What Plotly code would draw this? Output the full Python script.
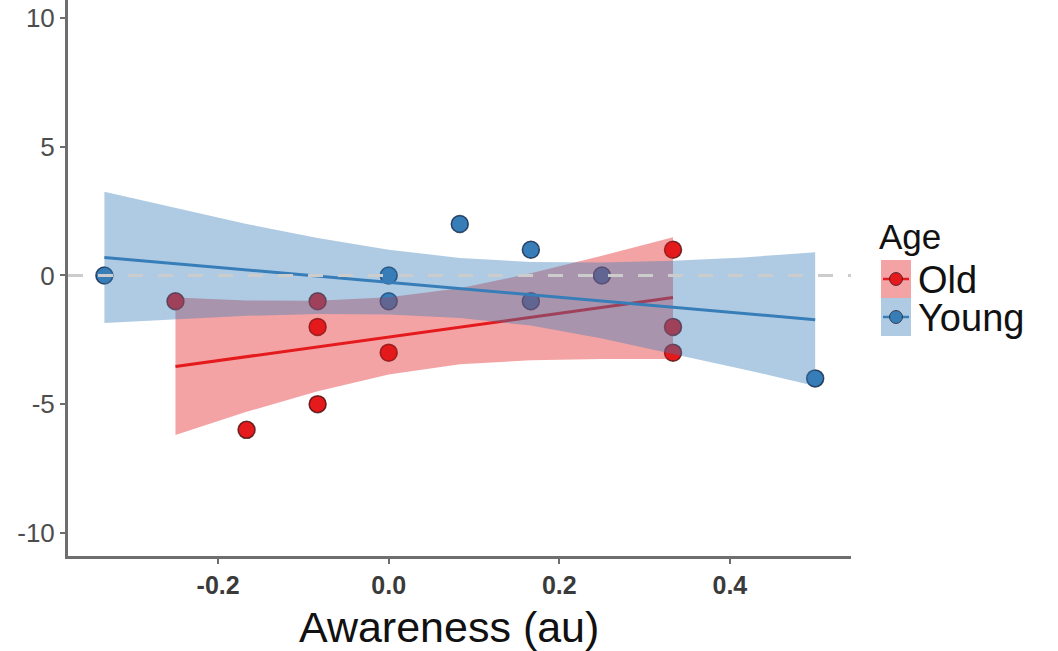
import plotly.graph_objects as go

# ---------------- data ----------------
old_x = [-0.25, -1/6, -1/12, -1/12, -1/12, 0.0, 1/3, 1/3, 1/3]
old_y = [-1, -6, -1, -2, -5, -3, 1, -2, -3]

young_x = [-1/3, 0.0, 0.0, 1/12, 1/6, 1/6, 0.25, 0.5]
young_y = [0, 0, -1, 2, 1, -1, 0, -4]

# fitted lines (end points) and 95% bands
old_line_x = [-0.25, 1/3]
old_line_y = [-3.54, -0.86]
old_band_x = [-0.25, -1/6, -1/12, 0.0, 1/12, 1/6, 0.25, 1/3]
old_band_hi = [-0.86, -0.97, -0.98, -0.85, -0.5, 0.08, 0.76, 1.48]
old_band_lo = [-6.2, -5.3, -4.5, -3.85, -3.45, -3.3, -3.25, -3.25]

young_line_x = [-1/3, 0.5]
young_line_y = [0.70, -1.72]
young_band_x = [-1/3, -0.25, -1/6, -1/12, 0.0, 1/12, 1/6, 0.25, 1/3, 5/12, 0.5]
young_band_hi = [3.25, 2.62, 2.0, 1.45, 1.0, 0.68, 0.52, 0.5, 0.57, 0.7, 0.9]
young_band_lo = [-1.85, -1.7, -1.57, -1.5, -1.52, -1.65, -1.95, -2.45, -3.05, -3.65, -4.3]

ref_level = 0

x_tick_vals = [-0.2, 0.0, 0.2, 0.4]
x_tick_text = ["-0.2", "0.0", "0.2", "0.4"]
y_tick_vals = [-10, -5, 0, 5, 10]
y_tick_text = ["-10", "-5", "0", "5", "10"]

groups = ["Old", "Young"]
x_title = "Awareness (au)"
legend_title = "Age"

# ---------------- styling ----------------
RED = "#E41A1C"
BLUE = "#377EB8"
RED_FILL = "rgba(228,26,28,0.40)"
BLUE_FILL = "rgba(55,126,184,0.40)"
FONT = "Liberation Sans, Arial, Helvetica, sans-serif"

fig = go.Figure()

# points first (ribbons are drawn over them, as in the reference)
fig.add_trace(go.Scatter(
    x=old_x, y=old_y, mode="markers", showlegend=False,
    marker=dict(size=17, color=RED, line=dict(color="rgba(60,10,10,0.75)", width=1.5))))
fig.add_trace(go.Scatter(
    x=young_x, y=young_y, mode="markers", showlegend=False,
    marker=dict(size=17, color=BLUE, line=dict(color="rgba(10,25,60,0.75)", width=1.5))))

# Old band + line
fig.add_trace(go.Scatter(
    x=old_band_x + old_band_x[::-1], y=old_band_hi + old_band_lo[::-1],
    mode="lines", fill="toself", fillcolor=RED_FILL, line=dict(width=0),
    hoverinfo="skip", showlegend=False))
fig.add_trace(go.Scatter(
    x=old_line_x, y=old_line_y, mode="lines", line=dict(color=RED, width=3),
    showlegend=False))

# Young band + line
fig.add_trace(go.Scatter(
    x=young_band_x + young_band_x[::-1], y=young_band_hi + young_band_lo[::-1],
    mode="lines", fill="toself", fillcolor=BLUE_FILL, line=dict(width=0),
    hoverinfo="skip", showlegend=False))
fig.add_trace(go.Scatter(
    x=young_line_x, y=young_line_y, mode="lines", line=dict(color=BLUE, width=3),
    showlegend=False))

# dashed reference line on top
fig.add_shape(type="line", xref="paper", x0=0, x1=1, yref="y", y0=ref_level, y1=ref_level,
              line=dict(color="#cccccc", width=3, dash="15px,15px"), layer="above")

# ---------------- custom legend ----------------
PW, PH, L, B = 783.0, 556.0, 68.0, 556.0
def px(xp):
    return (xp - L) / PW
def py(yp):
    return (B - yp) / PH

key_x0, key_x1 = 881, 911
key_rows = [(260, 298, RED_FILL, RED), (298, 336, BLUE_FILL, BLUE)]
for (y0, y1, fillc, c), name in zip(key_rows, groups):
    yc = (y0 + y1) / 2
    fig.add_shape(type="rect", xref="paper", yref="paper",
                  x0=px(key_x0), x1=px(key_x1), y0=py(y1), y1=py(y0),
                  fillcolor=fillc, line=dict(width=0), layer="above")
    fig.add_shape(type="line", xref="paper", yref="paper",
                  x0=px(key_x0 + 2), x1=px(key_x1 - 2), y0=py(yc), y1=py(yc),
                  line=dict(color=c, width=2.5), layer="above")
    fig.add_shape(type="circle", xref="paper", yref="paper",
                  x0=px(896 - 6.5), x1=px(896 + 6.5), y0=py(yc + 6.5), y1=py(yc - 6.5),
                  fillcolor=c, line=dict(color="rgba(30,20,30,0.7)", width=1), layer="above")
    fig.add_annotation(text=name, xref="paper", yref="paper", x=px(916), y=py(yc + 1),
                       xanchor="left", yanchor="middle", showarrow=False,
                       font=dict(family=FONT, size=38, color="#111111"))

fig.add_annotation(text=legend_title, xref="paper", yref="paper", x=px(877), y=py(236),
                   xanchor="left", yanchor="middle", showarrow=False,
                   font=dict(family=FONT, size=35, color="#111111"))

# x-axis title
fig.add_annotation(text=x_title, xref="paper", yref="paper", x=px(449), y=py(627),
                   xanchor="center", yanchor="middle", showarrow=False,
                   font=dict(family=FONT, size=43, color="#111111"))

AX = "#6e6e6e"
fig.update_layout(
    width=1058, height=651,
    margin=dict(l=68, r=207, t=0, b=95),
    paper_bgcolor="white", plot_bgcolor="white",
    font=dict(family=FONT),
    xaxis=dict(range=[-0.376, 0.542], tickvals=x_tick_vals, ticktext=x_tick_text,
               showgrid=False, zeroline=False, showline=True, linecolor=AX, linewidth=3,
               ticks="outside", ticklen=5, tickwidth=2, tickcolor=AX,
               tickfont=dict(family=FONT, size=25, color="#3a3a3a", weight="bold")),
    yaxis=dict(range=[-10.9, 10.7], tickvals=y_tick_vals, ticktext=y_tick_text,
               showgrid=False, zeroline=False, showline=True, linecolor=AX, linewidth=3,
               ticks="outside", ticklen=5, tickwidth=2, tickcolor=AX,
               tickfont=dict(family=FONT, size=26, color="#4d4d4d")),
)

fig.write_html("out.html")
